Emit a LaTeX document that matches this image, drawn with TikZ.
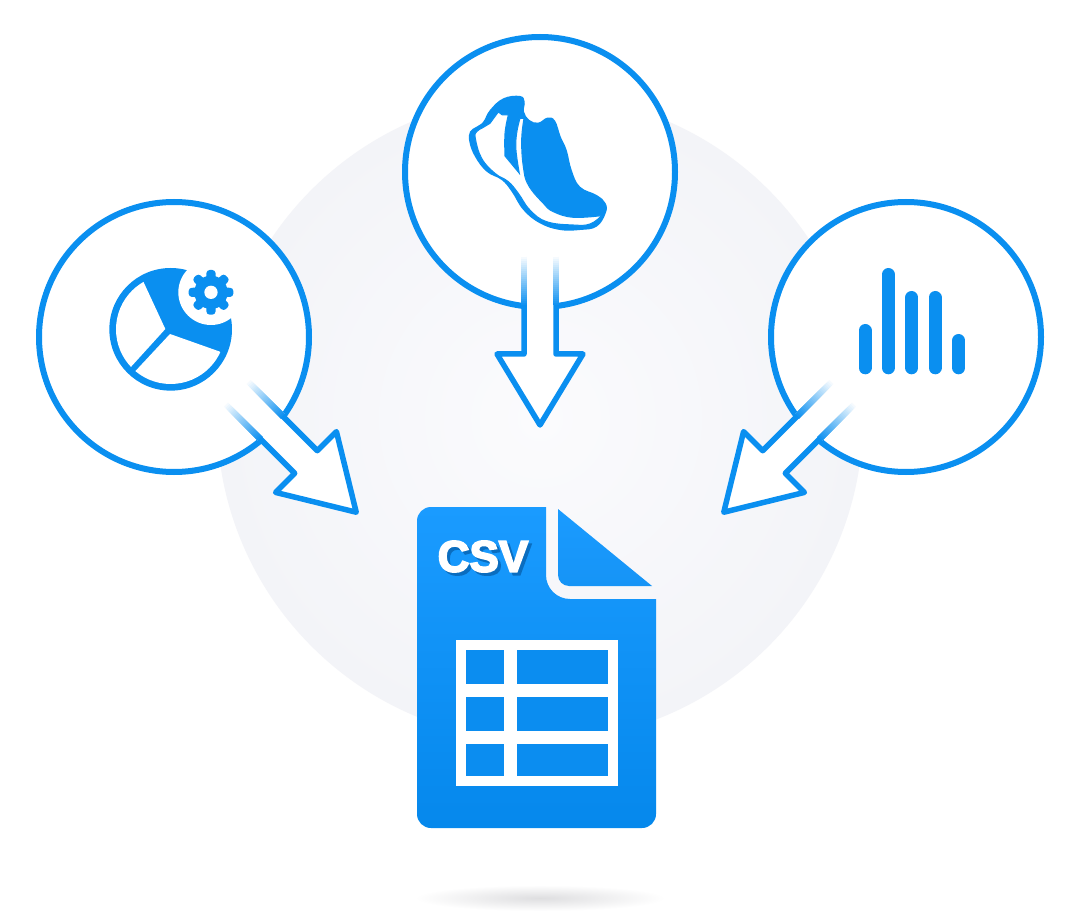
\documentclass[tikz,border=0pt]{standalone}
\usepackage{fontspec}
\usepackage{tikz}
\usetikzlibrary{calc,shapes}
\newfontfamily\csvfont[FakeBold=4]{Liberation Sans Bold}
\definecolor{iconblue}{HTML}{0A8FF0}
\definecolor{cellblue}{HTML}{0B8DF0}
\definecolor{doctop}{HTML}{1A9BFF}
\definecolor{docbottom}{HTML}{0588EC}
\definecolor{foldbottom}{HTML}{1694F6}
\definecolor{shadeblue}{HTML}{0A6DBF}
\definecolor{haloedge}{HTML}{F3F4F8}
\definecolor{halomid}{HTML}{FBFBFD}
\definecolor{groundgray}{HTML}{DEDEE0}
\tikzstyle{iconcircle}=[circle,draw=iconblue,fill=white,line width=6pt,
                      minimum size=270pt,inner sep=0pt]
\tikzstyle{csvtext}=[inner sep=0pt,font=\csvfont\fontsize{44}{44}\selectfont]
\tikzstyle{tablebox}=[rectangle,fill=white,minimum width=162pt,
                      minimum height=146pt,inner sep=0pt]
\tikzset{blockarrow/.pic={
    \fill [white] (-16,0) -- (-16,99) -- (-43,99) -- (0,170) -- (43,99) -- (16,99) -- (16,0) -- cycle;
    \foreach \i in {0,...,24} {
        \pgfmathsetmacro\fadeval{\i*4}
        \draw [iconblue!\fadeval!white,line width=5.5pt] (-16,2*\i) -- (-16,50.5);
        \draw [iconblue!\fadeval!white,line width=5.5pt] (16,2*\i) -- (16,50.5);
    }
    \draw [iconblue,line width=5.5pt,line join=round]
        (-16,50) -- (-16,99) -- (-43,99) -- (0,170) -- (43,99) -- (16,99) -- (16,50);
}}

\begin{document}
\begin{tikzpicture}[x=1pt,y=-1pt]
    \useasboundingbox [fill=white] (0,0) rectangle (1080,920);
    \shade [inner color=halomid,outer color=haloedge] (540,418) circle (323);
    \shade [inner color=groundgray,outer color=white] (540,898) ellipse (125 and 13);

    \node [iconcircle] (pie) at (174,337) {};
    \node [iconcircle] (shoe) at (540,172) {};
    \node [iconcircle] (bars) at (906,337) {};

    \begin{scope}[shift={(440,70)},x=0.3333pt,y=-0.3333pt]
        \fill [iconblue] plot [smooth cycle,tension=0.7] coordinates {
            (240,78) (254,95) (252,125) (268,150) (295,158) (322,143) (345,152) (362,200)
            (380,240) (395,300) (420,350) (470,375) (497,400) (497,430) (470,470) (420,480)
            (360,480) (300,460) (250,420) (215,365) (185,330) (140,305) (105,260) (88,215)
            (90,185) (110,170) (130,155) (150,120) (190,85)};
        \draw [draw=iconblue,line width=1pt,fill=white] plot [smooth,tension=0.7] coordinates {
                (125,175) (110,185) (106,205) (125,265) (165,310) (205,335) (235,370)
                (270,420) (320,455) (400,465) (450,462) (485,437)}
            -- plot [smooth,tension=0.7] coordinates {
                (485,437) (400,442) (340,425) (310,400) (265,345) (250,290) (245,210) (252,145)}
            -- plot [smooth,tension=0.7] coordinates {
                (240,145) (230,190) (228,240) (238,310)}
            -- plot [smooth,tension=0.7] coordinates {
                (195,258) (195,190) (205,135)}
            -- (187,135) -- (175,126) -- (150,160) -- cycle;
    \end{scope}

    \begin{scope}[shift={(90,250)},x=0.3333pt,y=-0.3333pt]
        \fill [iconblue] (242,238) circle (184);
        \begin{scope}
            \clip (242,238) circle (164);
            \fill [white] (226,237) -- (130,30) -- (-20,30) -- (-20,420) -- (60,420) -- cycle;
            \fill [white] (240,252) -- (500,344) -- (500,500) -- (60,500) -- (60,445) -- cycle;
        \end{scope}
        \fill [white] (363,127) circle (98);
        \fill [iconblue] (363,127) circle (50);
        \foreach \a in {0,45,...,315} {
            \fill [iconblue,shift={(363,127)},rotate=\a,rounded corners=3pt]
                (-17,0) -- (-13,-67) -- (13,-67) -- (17,0) -- cycle;
        }
        \fill [white] (363,127) circle (20);
    \end{scope}

    \foreach \x/\t in {865/324,888.3/268,911.7/291,935/291,958.7/334} {
        \draw [iconblue,line width=13pt,line cap=round] (\x,\t+6.5) -- (\x,367.8);
    }

    \pic [rotate=45] at ($(pie)+(62,55)$) {blockarrow};
    \pic at ($(shoe)+(0,83)$) {blockarrow};
    \pic [rotate=-45] at ($(bars)+(-62,55)$) {blockarrow};

    \shade [top color=doctop,bottom color=docbottom]
        (417,650) [rounded corners=14pt] -- (417,507) [sharp corners] -- (546,507)
        [rounded corners=24pt] -- (546,599) [sharp corners] -- (656,599)
        [rounded corners=14pt] -- (656,828) -- (417,828) -- cycle;
    \shade [top color=doctop,bottom color=foldbottom]
        (558,509) -- (652,586) [rounded corners=11pt] -- (558,586) [sharp corners] -- cycle;

    \node [csvtext,text=shadeblue] (csvshade) at (486,559.5) {CSV};
    \node [csvtext,text=white] (csvlabel) at (483,556.5) {CSV};

    \node [tablebox] (table) at (537,713) {};
    \foreach \l/\r in {466/504,517/608} {
        \foreach \tp/\bt in {650/684,697/731,744/776} {
            \fill [cellblue] (\l,\tp) rectangle (\r,\bt);
        }
    }
\end{tikzpicture}
\end{document}
